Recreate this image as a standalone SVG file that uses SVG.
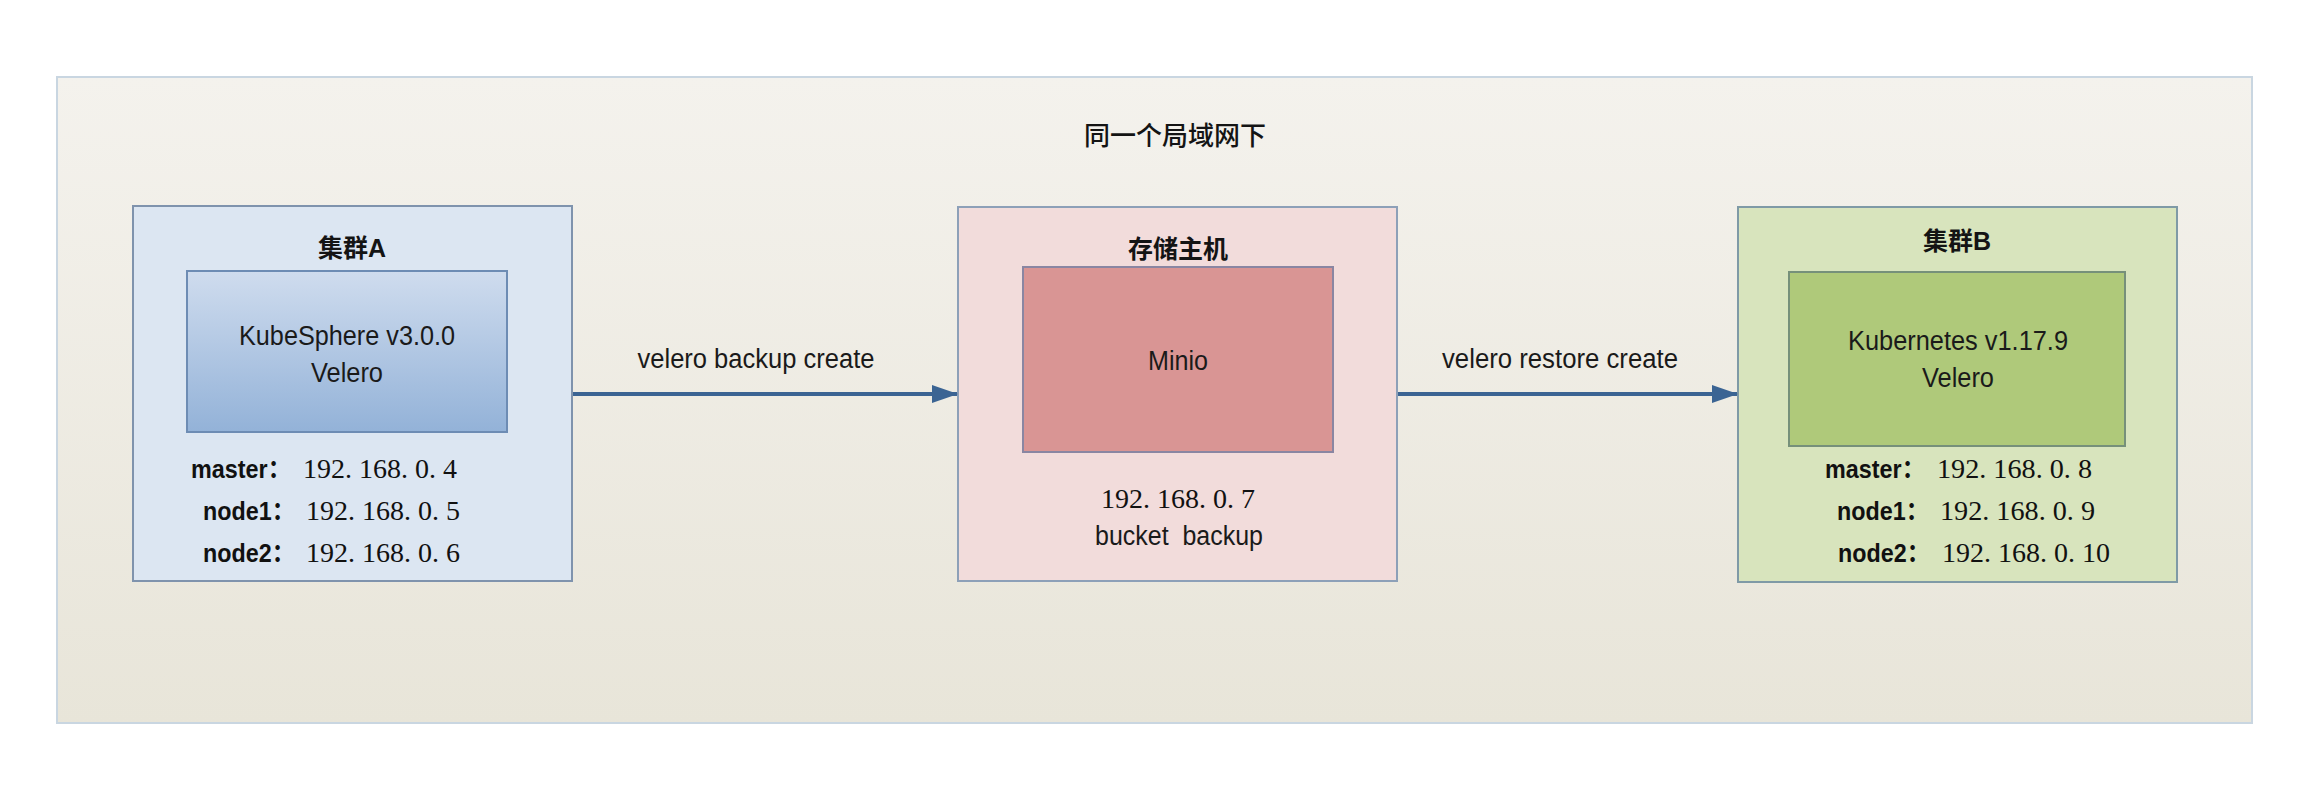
<svg xmlns="http://www.w3.org/2000/svg" width="2310" height="794" viewBox="0 0 2310 794">
  <style>
    .title { font-family: "Noto Sans CJK SC", "Noto Sans", sans-serif; font-size: 26px; font-weight: 500; fill: #141414; text-anchor: middle; }
    .ctitle { font-family: "Liberation Sans", "Noto Sans CJK SC", sans-serif; font-size: 25px; font-weight: bold; fill: #141414; text-anchor: middle; }
    .lbl { font-family: "Liberation Sans", Arial, sans-serif; font-size: 27px; fill: #1a1a1a; text-anchor: middle; }
    .key { font-family: "Liberation Sans", "Noto Sans CJK SC", sans-serif; font-size: 26px; font-weight: bold; fill: #111; }
    .ip { font-family: "Liberation Serif", "Times New Roman", serif; font-size: 28px; fill: #111; }
    .ipc { font-family: "Liberation Serif", "Times New Roman", serif; font-size: 28px; fill: #111; text-anchor: middle; }
    .conn { stroke: #3b6493; stroke-width: 4; fill: none; }
  </style>
  <defs>
    <linearGradient id="bg" x1="0" y1="0" x2="0" y2="1">
      <stop offset="0" stop-color="#f4f2ed"/>
      <stop offset="1" stop-color="#e8e5d9"/>
    </linearGradient>
    <linearGradient id="blueInner" x1="0" y1="0" x2="0" y2="1">
      <stop offset="0" stop-color="#cfdcee"/>
      <stop offset="1" stop-color="#93b2d8"/>
    </linearGradient>
    <marker id="arrow" viewBox="0 0 26 18" refX="25" refY="9" markerWidth="26" markerHeight="18" markerUnits="userSpaceOnUse" orient="auto">
      <path d="M0,0 L26,9 L0,18 Z" fill="#3b6493"/>
    </marker>
  </defs>

  <rect x="0" y="0" width="2310" height="794" fill="#ffffff"/>

  <g id="lan">
    <rect x="57" y="77" width="2195" height="646" fill="url(#bg)" stroke="#c9d6e1" stroke-width="2"/>
    <text class="title" x="1175" y="145">同一个局域网下</text>
  </g>

  <g id="clusterA">
    <rect x="133" y="206" width="439" height="375" fill="#dce6f2" stroke="#7f93ad" stroke-width="2"/>
    <text class="ctitle" x="352" y="257">集群A</text>
    <rect x="187" y="271" width="320" height="161" fill="url(#blueInner)" stroke="#6d8cb4" stroke-width="2"/>
    <text class="lbl" x="347" y="345" textLength="216" lengthAdjust="spacingAndGlyphs">KubeSphere v3.0.0</text>
    <text class="lbl" x="347" y="382" textLength="72" lengthAdjust="spacingAndGlyphs">Velero</text>
    <text x="191" y="478"><tspan class="key" textLength="100" lengthAdjust="spacingAndGlyphs">master：</tspan><tspan class="ip" x="303" textLength="154" lengthAdjust="spacingAndGlyphs">192. 168. 0. 4</tspan></text>
    <text x="203" y="520"><tspan class="key" textLength="92" lengthAdjust="spacingAndGlyphs">node1：</tspan><tspan class="ip" x="306" textLength="154" lengthAdjust="spacingAndGlyphs">192. 168. 0. 5</tspan></text>
    <text x="203" y="562"><tspan class="key" textLength="92" lengthAdjust="spacingAndGlyphs">node2：</tspan><tspan class="ip" x="306" textLength="154" lengthAdjust="spacingAndGlyphs">192. 168. 0. 6</tspan></text>
  </g>

  <g id="storage">
    <rect x="958" y="207" width="439" height="374" fill="#f2dcdb" stroke="#8da0b8" stroke-width="2"/>
    <text class="ctitle" x="1178" y="258">存储主机</text>
    <rect x="1023" y="267" width="310" height="185" fill="#d99594" stroke="#8a86a2" stroke-width="2"/>
    <text class="lbl" x="1178" y="370" textLength="60" lengthAdjust="spacingAndGlyphs">Minio</text>
    <text class="ipc" x="1178" y="508" textLength="154" lengthAdjust="spacingAndGlyphs">192. 168. 0. 7</text>
    <text class="lbl" x="1179" y="545" textLength="168" lengthAdjust="spacingAndGlyphs">bucket&#160; backup</text>
  </g>

  <g id="clusterB">
    <rect x="1738" y="207" width="439" height="375" fill="#d8e4bd" stroke="#7f9aa6" stroke-width="2"/>
    <text class="ctitle" x="1957" y="250">集群B</text>
    <rect x="1789" y="272" width="336" height="174" fill="#afc97a" stroke="#76907a" stroke-width="2"/>
    <text class="lbl" x="1958" y="350" textLength="220" lengthAdjust="spacingAndGlyphs">Kubernetes v1.17.9</text>
    <text class="lbl" x="1958" y="387" textLength="72" lengthAdjust="spacingAndGlyphs">Velero</text>
    <text x="1825" y="478"><tspan class="key" textLength="100" lengthAdjust="spacingAndGlyphs">master：</tspan><tspan class="ip" x="1937" textLength="155" lengthAdjust="spacingAndGlyphs">192. 168. 0. 8</tspan></text>
    <text x="1837" y="520"><tspan class="key" textLength="92" lengthAdjust="spacingAndGlyphs">node1：</tspan><tspan class="ip" x="1940" textLength="155" lengthAdjust="spacingAndGlyphs">192. 168. 0. 9</tspan></text>
    <text x="1838" y="562"><tspan class="key" textLength="92" lengthAdjust="spacingAndGlyphs">node2：</tspan><tspan class="ip" x="1942" textLength="168" lengthAdjust="spacingAndGlyphs">192. 168. 0. 10</tspan></text>
  </g>

  <g id="connectors">
    <line class="conn" x1="573" y1="394" x2="957" y2="394" marker-end="url(#arrow)"/>
    <text class="lbl" x="756" y="368" textLength="237" lengthAdjust="spacingAndGlyphs">velero backup create</text>
    <line class="conn" x1="1398" y1="394" x2="1737" y2="394" marker-end="url(#arrow)"/>
    <text class="lbl" x="1560" y="368" textLength="236" lengthAdjust="spacingAndGlyphs">velero restore create</text>
  </g>
</svg>
